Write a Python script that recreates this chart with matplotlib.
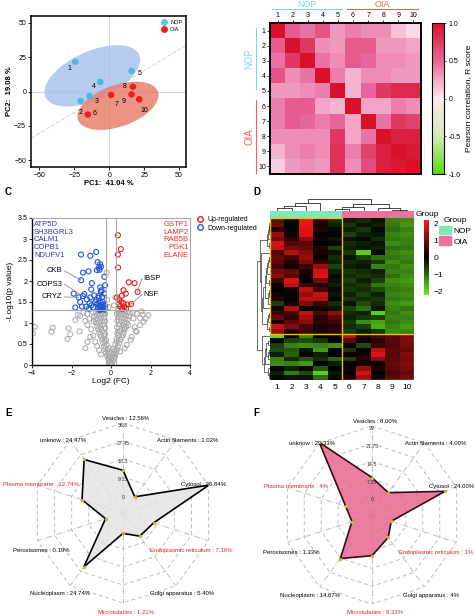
import numpy as np
import matplotlib.pyplot as plt
from matplotlib.patches import Ellipse, Rectangle, Patch
from matplotlib.lines import Line2D
from matplotlib.colors import LinearSegmentedColormap, ListedColormap

plt.rcParams['font.family'] = ['Liberation Sans', 'DejaVu Sans']

W, H = 474, 616

# --- A: PCA ---
pc_x = [-24.3, -20.5, -14.1, -6.4, 16.0, -15.3, 1.4, 16.9, 16.0, 21.5]
pc_y = [21.7, -6.9, -3.3, 6.9, 14.9, -16.8, -2.5, 3.5, -2.1, -5.7]
pc_names = ['1', '2', '3', '4', '5', '6', '7', '8', '9', '10']
pc_group = ['NOP'] * 5 + ['OIA'] * 5
ell_nop = (-12.1, 11.4, 36.9, 17.7, 25)   # cx, cy, a, b, angle
ell_oia = (6.3, -10.4, 30.4, 15.1, 20)
diag_slope = 0.61

# --- B: Pearson correlation ---
corr = [
    [1.00, 0.55, 0.45, 0.60, 0.30, 0.40, 0.35, 0.35, 0.15, 0.05],
    [0.55, 1.00, 0.75, 0.35, 0.30, 0.55, 0.55, 0.30, 0.30, 0.25],
    [0.45, 0.75, 1.00, 0.45, 0.35, 0.55, 0.50, 0.35, 0.35, 0.30],
    [0.60, 0.35, 0.45, 1.00, 0.40, 0.20, 0.35, 0.35, 0.30, 0.30],
    [0.30, 0.30, 0.35, 0.40, 1.00, 0.20, 0.50, 0.75, 0.85, 0.85],
    [0.40, 0.55, 0.55, 0.25, 0.20, 1.00, 0.25, 0.25, 0.40, 0.35],
    [0.40, 0.55, 0.50, 0.40, 0.50, 0.25, 1.00, 0.45, 0.75, 0.70],
    [0.35, 0.35, 0.35, 0.35, 0.75, 0.25, 0.45, 1.00, 0.90, 0.90],
    [0.20, 0.35, 0.40, 0.35, 0.80, 0.40, 0.70, 0.90, 1.00, 0.95],
    [0.10, 0.30, 0.35, 0.30, 0.80, 0.35, 0.65, 0.90, 0.95, 1.00],
]

# --- C: volcano ---
up_x = [0.35, 0.50, 0.35, 0.36, 0.90, 1.19, 1.34, 0.63, 0.75, 0.55, 0.40, 0.53, 0.63, 0.83,
        1.02, 0.46, 0.67, 0.40, 0.57, 0.77, 0.30]
up_y = [3.09, 2.76, 2.63, 2.32, 1.97, 1.95, 1.74, 1.78, 1.70, 1.65, 1.56, 1.50, 1.47, 1.44,
        1.45, 1.40, 1.39, 1.45, 1.34, 1.35, 1.61]
down_x = [-1.52, -1.05, -0.75, -0.68, -0.55, -0.61, -0.51, -0.58, -0.71, -1.14, -1.42, -1.51,
          -0.97, -0.55, -0.51, -0.34, -1.89, -1.64, -1.42, -1.35, -1.22, -1.05, -0.85, -0.63,
          -1.09, -1.25, -1.47, -1.81, -1.56, -0.80, -0.55, -0.50, -0.45, -0.40, -0.35, -0.60,
          -0.48, -0.38, -0.65, -0.30, -0.52, -0.42, -0.70, -0.58, -0.33, -0.90, -1.00, -1.12,
          -0.75, -0.62, -0.45, -0.35, -0.48, -1.00, -0.30]
down_y = [2.63, 2.60, 2.69, 2.45, 2.40, 2.32, 2.34, 2.27, 2.26, 2.23, 2.20, 2.02,
          1.95, 1.85, 1.74, 2.10, 1.70, 1.61, 1.64, 1.69, 1.56, 1.61, 1.66, 1.64,
          1.47, 1.39, 1.39, 1.37, 1.50, 1.50, 1.33, 1.36, 1.34, 1.38, 1.35, 1.40,
          1.42, 1.44, 1.36, 1.40, 1.48, 1.50, 1.45, 1.31, 1.32, 1.37, 1.42, 1.34,
          1.55, 1.60, 1.62, 1.70, 1.78, 1.80, 1.90]
ns_x = [0.00, 0.05, -0.05, 0.10, -0.10, 0.00, 0.15, -0.15, 0.05, -0.05, 0.20, -0.20, 0.10, -0.12,
        0.25, -0.25, 0.00, 0.18, -0.18, 0.30, -0.30, 0.08, -0.08,
        -0.35, -0.22, -0.40, -0.30, -0.45, -0.25, -0.50, -0.35, -0.55, -0.30, -0.60, -0.42, -0.65,
        -0.50, -0.30, -0.70, -0.55, -0.40, -0.75, -0.60, -0.45, -0.30, -0.80, -0.65, -0.50, -0.35,
        -0.85, -0.70, -0.55, -0.40, -0.30, -0.90, -0.75, -0.60, -0.45, -0.35,
        -0.90, -1.05, -1.19, -1.30, -1.00, -1.20, -0.88, -1.10, -1.30, -1.56, -1.69, -1.81, -1.40,
        -1.20, -2.06, -2.15, -2.20, -1.60, -2.95, -3.02, -3.86, -3.96, -0.80, -0.70, -0.60, -0.50,
        0.35, 0.22, 0.42, 0.30, 0.48, 0.28, 0.55, 0.38, 0.60, 0.32, 0.65, 0.46, 0.70, 0.55, 0.30,
        0.75, 0.60, 0.42, 0.80, 0.66, 0.50, 0.32, 0.85, 0.70, 0.55, 0.38, 0.90, 0.75, 0.60, 0.45,
        0.30, 0.95, 0.80, 0.65, 0.50, 0.36,
        0.80, 0.46, 1.05, 1.30, 1.25, 0.66, 0.88, 1.47, 1.64, 1.14, 1.47, 1.89, 1.10, 1.30, 1.60,
        1.00, 0.70, 1.55, 1.75, 1.20,
        -0.22, -0.20, 0.22, 0.15, -0.12]
ns_y = [0.02, 0.05, 0.06, 0.10, 0.10, 0.12, 0.15, 0.16, 0.18, 0.20, 0.20, 0.22, 0.25, 0.27,
        0.28, 0.30, 0.30, 0.33, 0.35, 0.36, 0.38, 0.38, 0.40,
        0.45, 0.48, 0.52, 0.55, 0.60, 0.60, 0.66, 0.68, 0.72, 0.74, 0.78, 0.80, 0.85,
        0.86, 0.88, 0.92, 0.94, 0.96, 1.00, 1.02, 1.04, 1.05, 1.08, 1.10, 1.12, 1.13,
        1.16, 1.18, 1.20, 1.21, 1.22, 1.24, 1.26, 1.27, 1.28, 1.29,
        0.70, 0.67, 0.55, 0.40, 0.85, 0.95, 1.03, 1.10, 1.05, 1.17, 1.19, 1.07, 1.25,
        1.22, 0.73, 0.87, 0.62, 0.80, 0.89, 0.79, 0.91, 0.75, 0.55, 0.45, 0.35, 0.25,
        0.45, 0.50, 0.52, 0.56, 0.60, 0.62, 0.66, 0.70, 0.72, 0.76, 0.78, 0.80, 0.85, 0.86, 0.90,
        0.92, 0.95, 0.97, 1.00, 1.02, 1.04, 1.06, 1.08, 1.10, 1.12, 1.14, 1.16, 1.18, 1.20, 1.21,
        1.22, 1.24, 1.26, 1.27, 1.28, 1.29,
        0.48, 0.32, 0.67, 0.79, 0.81, 0.87, 0.95, 0.95, 1.03, 1.11, 1.12, 1.19, 1.25, 1.22, 1.20,
        0.60, 0.40, 1.28, 1.10, 0.90,
        2.20, 1.55, 1.60, 1.42, 1.38]
down_genes = ['ATP5D', 'SH3BGRL3', 'CALM1', 'COPB1', 'NDUFV1']
up_genes = ['GSTP1', 'LAMP2', 'RAB5B', 'PGK1', 'ELANE']
callouts = [('CKB', -2.45, 2.24, -1.52, 2.02),
            ('COPS3', -2.45, 1.92, -1.42, 1.64),
            ('CRYZ', -2.45, 1.62, -1.64, 1.61),
            ('IBSP', 1.65, 2.06, 1.34, 1.74),
            ('NSF', 1.65, 1.68, 1.02, 1.45)]

# --- D: expression heatmap (z-score), 25 NOP-high rows + 10 OIA-high rows ---
heat = [
    [0.8, 0.1, 2.0, 0.3, -0.4, -0.3, -0.4, -0.2, -1.2, -1.3],
    [1.0, 0.0, 2.0, 0.2, -0.3, -0.5, -0.2, -0.3, -1.1, -1.4],
    [0.3, 0.1, 1.9, 0.3, -0.1, -0.3, -0.5, -0.1, -1.0, -1.2],
    [1.3, 0.2, 1.9, 0.1, 0.0, -0.6, -0.3, -0.2, -1.2, -1.3],
    [1.0, 0.4, 1.2, 0.2, -0.2, -0.2, -0.1, -0.4, -1.1, -1.2],
    [1.8, 0.7, 0.8, 0.0, -0.1, -0.4, -0.3, -0.2, -1.3, -1.2],
    [1.7, 1.0, 0.9, 0.3, -0.6, -0.3, -0.2, -0.3, -1.0, -1.1],
    [0.7, 1.5, 1.1, 0.2, -0.2, -0.5, -1.9, -0.1, -1.2, -1.3],
    [0.9, 0.6, 1.3, 0.1, -0.4, -0.2, -0.6, -1.0, -1.1, -1.2],
    [0.8, 0.3, 1.0, 0.4, -0.3, -0.4, -0.3, -0.5, -1.3, -1.1],
    [0.6, 0.2, 0.5, 1.3, -0.6, -0.3, -0.2, -1.2, -1.1, -1.3],
    [1.0, 0.9, 0.2, 1.8, -0.3, -0.5, -0.4, -0.3, -1.2, -1.2],
    [1.2, 0.8, 0.1, 1.9, -0.1, -0.4, -0.5, -0.4, -1.0, -1.3],
    [0.5, 1.9, 0.0, 1.0, -0.2, -0.6, -0.3, -0.6, -1.3, -1.4],
    [0.1, 1.6, 0.5, 0.3, -0.3, -0.4, -0.5, -1.1, -1.2, -1.3],
    [0.0, 0.2, 1.6, 0.6, -0.1, -0.5, -0.4, -0.7, -1.1, -1.2],
    [0.2, 0.1, 1.3, 1.7, -0.2, -0.3, -0.6, -0.3, -1.2, -1.3],
    [0.3, 0.0, 1.6, 1.5, 0.0, -0.5, -0.4, -0.5, -1.1, -1.2],
    [-0.6, 0.2, 1.1, 0.5, -0.4, -0.2, -0.7, -0.4, -1.3, -1.4],
    [0.2, 1.5, 0.0, 0.2, -0.2, -0.6, -1.0, -0.2, -1.2, -1.1],
    [0.5, 0.6, 1.7, 0.6, 1.2, -0.4, -0.3, -1.9, -1.1, -1.3],
    [0.9, 0.4, 1.4, 0.3, 0.8, -0.3, -0.5, -0.6, -1.2, -1.2],
    [0.2, 0.8, 1.2, 0.4, 0.5, -0.5, -1.3, -1.5, -1.1, -1.3],
    [1.7, 1.1, 0.6, 0.2, 0.3, -0.4, -0.6, -1.6, -1.2, -1.4],
    [1.3, 0.2, 0.5, 0.3, 0.4, -0.6, -0.3, -0.5, -1.3, -1.2],
    [-2.0, 0.0, -1.2, 0.0, 0.1, 1.5, 0.3, 0.6, 0.8, 1.0],
    [0.0, -0.6, -0.7, -0.5, 0.0, 0.8, 0.1, 0.3, 0.8, 1.1],
    [-0.6, -1.2, -1.3, -1.2, -1.3, 0.2, -0.7, 0.5, 0.7, 1.0],
    [-0.7, -0.8, -0.2, -1.4, 0.0, -0.5, 0.0, 1.6, 0.8, 0.9],
    [-0.3, -0.9, 0.0, -0.3, 0.0, 0.1, 0.2, 1.9, 0.7, 1.1],
    [-1.2, -0.4, -0.8, -0.4, -0.9, -0.6, 0.3, 1.2, 0.8, 1.0],
    [-1.3, -1.2, -1.4, 0.0, -0.3, 0.0, 0.2, 0.1, 0.9, 1.1],
    [0.0, -0.3, -0.1, -0.8, 0.0, 0.1, 1.3, 0.2, 0.8, 1.0],
    [-0.3, -1.1, -0.7, -1.9, -0.2, 0.0, 1.8, 0.0, 0.7, 0.9],
    [-0.1, -0.2, -0.2, -1.0, -0.1, 0.2, 1.4, 0.1, 0.8, 1.0],
]
n_top = 25
samples = ['1', '2', '3', '4', '5', '6', '7', '8', '9', '10']

# --- E / F: subcellular location radar ---
cats = ['Vesicles', 'Actin filaments', 'Cytosol', 'Endoplasmic reticulum', 'Golgi apparatus',
        'Microtubules', 'Nucleoplasm', 'Peroxisomes', 'Plasma membrane', 'unknow']
red_cats = ['Endoplasmic reticulum', 'Microtubules', 'Plasma membrane']
e_values = [12.56, 1.02, 36.84, 7.16, 5.40, 1.21, 24.74, 0.19, 12.74, 24.47]
e_text = ['12.56%', '1.02%', '36.84%', '7.16%', '5.40%', '1.21%', '24.74%', '0.19%', '12.74%', '24.47%']
e_ticks = [0, 9.15, 18.3, 27.45, 36.6]
e_ticklabels = ['0', '9.15', '18.3', '27.45', '36.6']
f_values = [8.00, 4.00, 24.00, 1.00, 4.00, 9.33, 14.67, 1.33, 4.00, 29.33]
f_text = ['8.00%', '4.00%', '24.00%', '1%', '4%', '9.33%', '14.67%', '1.33%', '4%', '29.33%']
f_ticks = [0, 7.25, 14.5, 21.75, 29]
f_ticklabels = ['0', '7.25', '14.5', '21.75', '29']

# where each category name sits round the radar (x, y in radii from centre, alignment)
name_pos = [(0.03, 1.05, 'center'), (0.72, 0.80, 'center'), (0.64, 0.32, 'left'),
            (0.30, -0.42, 'left'), (0.66, -0.90, 'center'), (0.03, -1.10, 'center'),
            (-0.70, -0.90, 'center'), (-0.59, -0.42, 'right'), (-0.49, 0.32, 'right'),
            (-0.67, 0.80, 'center')]


def box(x0, y0, x1, y1):
    return [x0 / W, 1 - y1 / H, (x1 - x0) / W, (y1 - y0) / H]


def adjacent_links(vectors):
    # merge neighbouring clusters only, so the tree never crosses the drawn order
    cl = [(float(i), 0.0, np.asarray(v, float), 1) for i, v in enumerate(vectors)]
    links = []
    while len(cl) > 1:
        d = [np.linalg.norm(cl[k][2] - cl[k + 1][2]) for k in range(len(cl) - 1)]
        k = int(np.argmin(d))
        a, b = cl[k], cl[k + 1]
        h = max(a[1], b[1]) + d[k]
        links.append((a[0], b[0], a[1], b[1], h))
        n = a[3] + b[3]
        cl[k:k + 2] = [((a[0] + b[0]) / 2, h, (a[2] * a[3] + b[2] * b[3]) / n, n)]
    return links


fig = plt.figure(figsize=(W / 100, H / 100), dpi=100)

# ================= A =================
axA = fig.add_axes(box(31, 16, 186, 167))
for (cx, cy, a, b, ang), col in [(ell_nop, '#a9c3ec'), (ell_oia, '#e9806f')]:
    axA.add_patch(Ellipse((cx, cy), 2 * a, 2 * b, angle=ang, facecolor=col, alpha=0.85, lw=0))
axA.axhline(0, color='#cccccc', lw=0.6, zorder=0)
axA.axvline(0, color='#cccccc', lw=0.6, zorder=0)
axA.axline((0, 0), slope=diag_slope, color='#d8d8d8', lw=0.8, ls='--', zorder=0)
pt_col = {'NOP': '#4fb6e4', 'OIA': '#e8221a'}
axA.scatter(pc_x, pc_y, s=22, c=[pt_col[g] for g in pc_group], zorder=3, lw=0)
offs = [(-4, -5), (0, -8), (5, -4), (-5, -3), (6, -2), (5, 1), (4, -7), (-6, 0), (-6, -5), (4, -8)]
for x, y, t, o in zip(pc_x, pc_y, pc_names, offs):
    axA.annotate(t, (x, y), xytext=o, textcoords='offset points', fontsize=5,
                 ha='center', va='center')
axA.set_xlim(-56, 55)
axA.set_ylim(-55, 55)
axA.set_xticks([-50, -25, 0, 25, 50])
axA.set_yticks([-50, -25, 0, 25, 50])
axA.tick_params(labelsize=5, length=2, width=0.6, pad=1.5)
for s in axA.spines.values():
    s.set_linewidth(1.1)
axA.set_xlabel('PC1:  41.04 %', fontsize=5.5, fontweight='bold', labelpad=1)
axA.set_ylabel('PC2:  19.08 %', fontsize=5.5, fontweight='bold', labelpad=1)
axA.legend(handles=[Line2D([], [], ls='', marker='o', ms=4, color='#4cd0d6', label='NOP'),
                    Line2D([], [], ls='', marker='o', ms=4, color='#e8221a', label='OIA')],
           loc='upper right', fontsize=4, frameon=False, handletextpad=0.1,
           borderaxespad=0.3, labelspacing=0.3)

# ================= B =================
axB = fig.add_axes(box(270, 23, 421, 174))
cmapB = LinearSegmentedColormap.from_list('pc', [(0, '#55dd11'), (0.25, '#d8e8b4'), (0.5, '#fde8f0'),
                                                 (0.75, '#e8669e'), (1, '#d8102a')])
imB = axB.imshow(np.array(corr), cmap=cmapB, vmin=-1, vmax=1, aspect='auto')
axB.xaxis.tick_top()
axB.set_xticks(range(10))
axB.set_xticklabels(samples)
axB.set_yticks(range(10))
axB.set_yticklabels(samples)
axB.tick_params(labelsize=5, length=2, width=0.6, pad=1)
for s in axB.spines.values():
    s.set_linewidth(1.4)
c_nop, c_oia = '#7fd6e6', '#f0605a'
axB.plot([-0.37, 4.27], [-1.43, -1.43], color=c_nop, lw=0.8, clip_on=False)
axB.plot([4.6, 9.3], [-1.43, -1.43], color=c_oia, lw=0.8, clip_on=False)
axB.text(1.95, -1.46, 'NOP', color=c_nop, fontsize=6.5, ha='center', va='bottom')
axB.text(6.95, -1.46, 'OIA', color=c_oia, fontsize=6.5, ha='center', va='bottom')
axB.plot([-1.43, -1.43], [-0.17, 3.87], color=c_nop, lw=0.8, clip_on=False)
axB.plot([-1.43, -1.43], [4.6, 9.43], color=c_oia, lw=0.8, clip_on=False)
axB.text(-1.55, 1.85, 'NOP', color=c_nop, fontsize=7, ha='right', va='center', rotation=90)
axB.text(-1.55, 7.0, 'OIA', color=c_oia, fontsize=7, ha='right', va='center', rotation=90)
axB.set_xlim(-0.5, 9.5)
axB.set_ylim(9.5, -0.5)
caxB = fig.add_axes(box(432, 23, 444, 174))
cbB = fig.colorbar(imB, cax=caxB, ticks=[-1, -0.5, 0, 0.5, 1])
cbB.ax.set_yticklabels(['-1.0', '-0.5', '0', '0.5', '1.0'])
cbB.ax.tick_params(labelsize=5, length=1.5, width=0.5, pad=2)
cbB.outline.set_linewidth(0.8)
cbB.set_label('Pearson correlation, R score', fontsize=6, labelpad=3)

# ================= C =================
axC = fig.add_axes(box(32, 218, 190, 365))
axC.scatter(ns_x, ns_y, s=13, facecolors='none', edgecolors='#a8a8a8', lw=0.7)
axC.scatter(down_x, down_y, s=13, facecolors='none', edgecolors='#2255dd', lw=0.8)
axC.scatter(up_x, up_y, s=13, facecolors='none', edgecolors='#dd2222', lw=0.8)
axC.axvline(-0.26, color='#aaaaaa', lw=0.8)
axC.axvline(0.26, color='#aaaaaa', lw=0.8)
axC.axhline(1.3, color='#aaaaaa', lw=0.8)
axC.set_xlim(-4, 4)
axC.set_ylim(0, 3.5)
axC.set_xticks([-4, -2, 0, 2, 4])
axC.set_yticks([0, 0.5, 1, 1.5, 2, 2.5, 3, 3.5])
axC.set_yticklabels(['0', '0.5', '1', '1.5', '2', '2.5', '3', '3.5'])
axC.tick_params(labelsize=5, length=2, width=0.6, pad=1.5)
axC.spines['left'].set_linewidth(1.0)
axC.spines['bottom'].set_linewidth(1.0)
axC.spines['top'].set_color('#aaaaaa')
axC.spines['right'].set_color('#aaaaaa')
axC.set_xlabel('Log2 (FC)', fontsize=6, labelpad=1)
axC.set_ylabel('-Log10(p value)', fontsize=6, labelpad=2)
axC.text(-3.9, 3.43, '\n'.join(down_genes), color='#3333bb', fontsize=5.5, va='top',
         ha='left', linespacing=1.15)
axC.text(3.92, 3.43, '\n'.join(up_genes), color='#ee2a2a', fontsize=5.5, va='top',
         ha='right', linespacing=1.15)
for t, tx, ty, px, py in callouts:
    ha = 'right' if tx < 0 else 'left'
    axC.plot([tx + (0.1 if tx < 0 else -0.08), px], [ty, py], color='#888888', lw=0.6)
    axC.text(tx, ty, t, fontsize=5.5, ha=ha, va='center')
axC.legend(handles=[Line2D([], [], ls='', marker='o', mfc='none', mec='#dd2222', ms=4, label='Up-regulated'),
                    Line2D([], [], ls='', marker='o', mfc='none', mec='#2255dd', ms=4, label='Down-regulated')],
           loc='upper left', bbox_to_anchor=(1.0, 1.03), fontsize=5, frameon=False,
           handletextpad=0.1, labelspacing=0.2, borderaxespad=0)
fig.text(5 / W, 1 - 192 / H, 'C', fontsize=7, fontweight='bold', va='center')

# ================= D =================
hm = np.array(heat)
nr = hm.shape[0]
axD = fig.add_axes(box(270, 218, 414, 380))
cmapD = LinearSegmentedColormap.from_list('gr', ['#6aee22', '#000000', '#ff1818'])
imD = axD.imshow(hm, cmap=cmapD, vmin=-2.2, vmax=2.2, aspect='auto', interpolation='nearest')
axD.add_patch(Rectangle((-0.5, -0.5), 5, n_top, fill=False, ec='#f0b820', lw=1.0))
axD.add_patch(Rectangle((4.5, n_top - 0.5), 5, nr - n_top, fill=False, ec='#f0b820', lw=1.0))
axD.set_xticks(range(10))
axD.set_xticklabels(samples)
axD.set_yticks([])
axD.tick_params(axis='x', labelsize=6, length=0, pad=3)
for s in axD.spines.values():
    s.set_visible(False)

axG = fig.add_axes(box(270, 211, 414, 218))
axG.imshow([[0, 0, 0, 0, 0, 1, 1, 1, 1, 1]], cmap=ListedColormap(['#7fe8b6', '#f0709c']),
           aspect='auto')
axG.axis('off')
axG.text(1.01, 0.5, 'Group', transform=axG.transAxes, fontsize=6, va='center')

axT = fig.add_axes(box(270, 198, 414, 211))
for xa, xb, ha_, hb, h in adjacent_links(hm.T):
    axT.plot([xa, xa, xb, xb], [ha_, h, h, hb], color='black', lw=0.5)
axT.set_xlim(-0.5, 9.5)
axT.set_ylim(0, None)
axT.axis('off')

axR = fig.add_axes(box(256, 218, 270, 380))
for ya, yb, ha_, hb, h in adjacent_links(hm):
    axR.plot([ha_, h, h, hb], [ya, ya, yb, yb], color='black', lw=0.4)
axR.set_ylim(nr - 0.5, -0.5)
axR.invert_xaxis()
axR.set_xlim(None, 0)
axR.axis('off')

caxD = fig.add_axes(box(424, 220, 429, 295))
cbD = fig.colorbar(imD, cax=caxD, ticks=[-2, -1, 0, 1, 2])
cbD.outline.set_visible(False)
cbD.ax.tick_params(labelsize=6, length=0, pad=3)
fig.legend(handles=[Patch(color='#7fe8b6', label='NOP'), Patch(color='#f0709c', label='OIA')],
           title='Group', loc='upper left', bbox_to_anchor=(439 / W, 1 - 217 / H), fontsize=6,
           title_fontsize=6, frameon=False, handlelength=1.4, handleheight=1.2,
           handletextpad=0.3, labelspacing=0.2, borderaxespad=0, borderpad=0)
fig.text(253 / W, 1 - 192 / H, 'D', fontsize=7, fontweight='bold', va='center')


# ================= E / F =================
def radar(rect, values, texts, ticks, ticklabels, fill, edge):
    ax = fig.add_axes(rect, projection='polar')
    ax.set_theta_zero_location('N')
    ax.set_theta_direction(-1)
    step = ticks[1] - ticks[0]
    rmin, rmax = -step, ticks[-1]
    ax.set_ylim(rmin, rmax)
    ang = np.linspace(0, 2 * np.pi, len(cats), endpoint=False)
    angc = np.append(ang, ang[0])
    for lv in ticks:
        ax.plot(angc, [lv] * len(angc), color='#bdbdbd', lw=0.7, ls=(0, (4, 3)))
    for a in ang:
        ax.plot([a, a], [rmin, rmax], color='#bdbdbd', lw=0.7, ls=(0, (6, 2, 1, 2)))
    vc = np.append(values, values[0])
    ax.fill(angc, vc, color=fill, alpha=0.85, lw=0, zorder=3)
    ax.plot(angc, vc, color=edge, lw=1.2, zorder=4)
    ax.scatter(ang, values, s=2, color='#c8b430', zorder=5)
    for lv, lb in zip(ticks, ticklabels):
        ax.text(0, lv - step * 0.15, lb, fontsize=3.8, ha='center', va='center', color='#333333',
                zorder=6)
    for (px, py, al), c, t in zip(name_pos, cats, texts):
        ax.text(0.5 + px / 2, 0.5 + py / 2, f'{c} : {t}', transform=ax.transAxes, fontsize=4.3,
                ha=al, va='center', color='#e8202a' if c in red_cats else 'black')
    ax.grid(False)
    ax.set_xticks([])
    ax.set_yticks([])
    ax.spines['polar'].set_visible(False)
    ax.patch.set_alpha(0)
    return ax


radar(box(33, 423, 213, 603), e_values, e_text, e_ticks, e_ticklabels, '#e4e4e4', 'black')
radar(box(283, 426, 461, 604), f_values, f_text, f_ticks, f_ticklabels, '#e8688f', '#3a0a14')
fig.text(5 / W, 1 - 413 / H, 'E', fontsize=7, fontweight='bold', va='center')
fig.text(253 / W, 1 - 413 / H, 'F', fontsize=7, fontweight='bold', va='center')

fig.savefig('out.png', dpi=100)
